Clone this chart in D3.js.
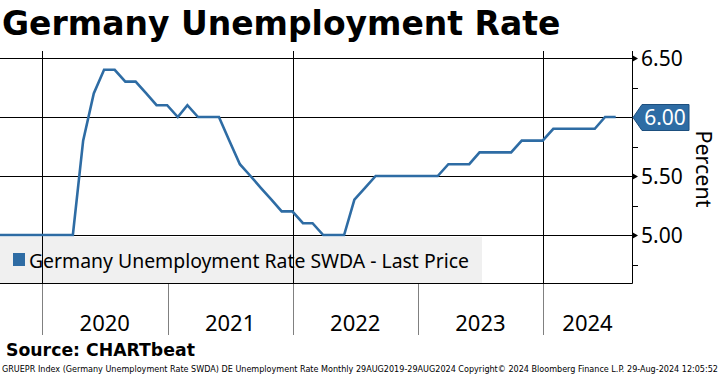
<!DOCTYPE html>
<html><head><meta charset="utf-8">
<script src="https://cdn.jsdelivr.net/npm/d3@7"></script>
<style>
html,body{margin:0;padding:0;background:#fff;}
svg{display:block;}
</style></head>
<body>
<svg id="chart" width="720" height="375"></svg>
<script>
// ---- Data (month-end dates, SWDA unemployment rate %) ----
const months = [
  "2019-08","2019-09","2019-10","2019-11","2019-12",
  "2020-01","2020-02","2020-03","2020-04","2020-05","2020-06","2020-07","2020-08","2020-09","2020-10","2020-11","2020-12",
  "2021-01","2021-02","2021-03","2021-04","2021-05","2021-06","2021-07","2021-08","2021-09","2021-10","2021-11","2021-12",
  "2022-01","2022-02","2022-03","2022-04","2022-05","2022-06","2022-07","2022-08","2022-09","2022-10","2022-11","2022-12",
  "2023-01","2023-02","2023-03","2023-04","2023-05","2023-06","2023-07","2023-08","2023-09","2023-10","2023-11","2023-12",
  "2024-01","2024-02","2024-03","2024-04","2024-05","2024-06","2024-07"
];
const rates = [
  5.0,5.0,5.0,5.0,5.0,
  5.0,5.0,5.0,5.8,6.2,6.4,6.4,6.3,6.3,6.2,6.1,6.1,
  6.0,6.1,6.0,6.0,6.0,5.8,5.6,5.5,5.4,5.3,5.2,5.2,
  5.1,5.1,5.0,5.0,5.0,5.3,5.4,5.5,5.5,5.5,5.5,5.5,
  5.5,5.5,5.6,5.6,5.6,5.7,5.7,5.7,5.7,5.8,5.8,5.8,
  5.9,5.9,5.9,5.9,5.9,6.0,6.0
];
const yearLabels = ["2020","2021","2022","2023","2024"];
const yMajorTicks = [5.0, 5.5, 6.0, 6.5];
const yMinorTicks = [4.75, 5.25, 5.75, 6.25];
const lastValue = 6.00;
const titleText = "Germany Unemployment Rate";
const legendText = "Germany Unemployment Rate SWDA - Last Price";
const axisTitle = "Percent";
const sourceText = "Source: CHARTbeat";
const footerText = "GRUEPR Index (Germany Unemployment Rate SWDA) DE Unemployment Rate  Monthly 29AUG2019-29AUG2024  Copyright\u00A9 2024 Bloomberg Finance L.P.   29-Aug-2024 12:05:52";

// ---- Layout ----
const W = 720, H = 375;
const plotL = 0, plotR = 632, plotT = 51, plotB = 283, axisB = 335;
const blue = "#2e6ca4";
const sans = "'Noto Sans', 'Open Sans', sans-serif";
const boldSans = "'DejaVu Sans', Verdana, sans-serif";

const parse = d3.timeParse("%Y-%m");
const data = months.map((m, i) => {
  const d = parse(m);
  const end = new Date(d.getFullYear(), d.getMonth() + 1, 0); // month end
  return {date: end, value: rates[i]};
});

const x = d3.scaleTime()
  .domain([new Date(2020,0,1), new Date(2024,0,1)])
  .range([42, 543]);
const y = d3.scaleLinear().domain([5.0, 6.5]).range([235, 58]);

const svg = d3.select("#chart");

// Title
svg.append("text").attr("x", 2).attr("y", 35)
  .attr("font-family", boldSans).attr("font-weight", "bold")
  .attr("font-size", 33).attr("fill", "#000").text(titleText);

// Legend background (under gridlines)
const legendW = 482, legendT = 237;
svg.append("rect").attr("x", 0).attr("y", legendT).attr("width", legendW).attr("height", plotB - legendT)
  .attr("fill", "#f0f0f0");

// Horizontal gridlines
svg.append("g").selectAll("line").data(yMajorTicks).join("line")
  .attr("x1", plotL).attr("x2", plotR)
  .attr("y1", d => Math.round(y(d)) + 0.5).attr("y2", d => Math.round(y(d)) + 0.5)
  .attr("stroke", "#000").attr("stroke-width", 1);

// Vertical gridlines every two years
const gridYears = [2020, 2022, 2024].map(yr => new Date(yr, 0, 1));
svg.append("g").selectAll("line").data(gridYears).join("line")
  .attr("x1", d => Math.round(x(d)) + 0.5).attr("x2", d => Math.round(x(d)) + 0.5)
  .attr("y1", plotT).attr("y2", plotB)
  .attr("stroke", "#000").attr("stroke-width", 1);

// Legend content
svg.append("rect").attr("x", 13).attr("y", 253).attr("width", 12).attr("height", 13).attr("fill", blue);
svg.append("text").attr("x", 29).attr("y", 268)
  .attr("font-family", sans).attr("font-size", 19.4).attr("fill", "#000")
  .text(legendText);

// Clip & line
svg.append("clipPath").attr("id", "clip").append("rect")
  .attr("x", plotL).attr("y", plotT).attr("width", plotR - plotL).attr("height", plotB - plotT);
const line = d3.line().x(d => x(d.date)).y(d => y(d.value));
svg.append("path").datum(data)
  .attr("clip-path", "url(#clip)")
  .attr("d", line).attr("fill", "none")
  .attr("stroke", blue).attr("stroke-width", 2.6)
  .attr("stroke-linejoin", "miter");

// Plot frame: bottom + right axis line
svg.append("line").attr("x1", plotL).attr("x2", plotR + 0.5)
  .attr("y1", plotB + 0.5).attr("y2", plotB + 0.5).attr("stroke", "#000");
svg.append("line").attr("x1", plotR + 0.5).attr("x2", plotR + 0.5)
  .attr("y1", plotT).attr("y2", plotB + 0.5).attr("stroke", "#000");

// Right axis: minor ticks
svg.append("g").selectAll("line").data(yMinorTicks).join("line")
  .attr("x1", plotR).attr("x2", plotR + 6)
  .attr("y1", d => Math.round(y(d)) + 0.5).attr("y2", d => Math.round(y(d)) + 0.5)
  .attr("stroke", "#000");

// Right axis: major tick arrows and labels (except the last-value label)
const majorShown = yMajorTicks.filter(v => v !== lastValue);
svg.append("g").selectAll("path").data(majorShown).join("path")
  .attr("d", d => { const yy = Math.round(y(d)) + 0.5; return `M${plotR},${yy-3.5}L${plotR+6},${yy}L${plotR},${yy+3.5}Z`; })
  .attr("fill", "#000");
svg.append("g").selectAll("text").data(majorShown).join("text")
  .attr("x", 641).attr("y", d => y(d) + 7.5)
  .attr("font-family", sans).attr("font-size", 21).attr("fill", "#000")
  .text(d => d3.format(".2f")(d));

// Last value marker
const ly = Math.round(y(lastValue)) + 0.5;
svg.append("path")
  .attr("d", `M${plotR+1},${ly}L${plotR+10},${ly-13}L${689},${ly-13}L${689},${ly+13}L${plotR+10},${ly+13}Z`)
  .attr("fill", blue).attr("stroke", "#1d4f7e").attr("stroke-width", 1);
svg.append("text").attr("x", 665).attr("y", ly + 7.5).attr("text-anchor", "middle")
  .attr("font-family", sans).attr("font-size", 21).attr("fill", "#fff")
  .text(d3.format(".2f")(lastValue));

// Axis title
svg.append("text")
  .attr("transform", `translate(696,169) rotate(90)`)
  .attr("text-anchor", "middle")
  .attr("font-family", sans).attr("font-size", 21.5).attr("fill", "#000")
  .text(axisTitle);

// X axis separators and year labels
const yearStarts = yearLabels.map(s => new Date(+s, 0, 1));
svg.append("g").selectAll("line").data(yearStarts).join("line")
  .attr("x1", d => Math.round(x(d)) + 0.5).attr("x2", d => Math.round(x(d)) + 0.5)
  .attr("y1", plotB + 1).attr("y2", axisB)
  .attr("stroke", "#808080").attr("stroke-width", 1);
svg.append("g").selectAll("text").data(yearLabels).join("text")
  .attr("x", (d, i) => {
    const a = x(yearStarts[i]);
    const b = Math.min(x(new Date(+d + 1, 0, 1)), plotR);
    return (a + b) / 2;
  })
  .attr("y", 331).attr("text-anchor", "middle")
  .attr("font-family", sans).attr("font-size", 22).attr("fill", "#000")
  .text(d => d);

// Source and footer
svg.append("text").attr("x", 6).attr("y", 356)
  .attr("font-family", boldSans).attr("font-weight", "bold")
  .attr("font-size", 17.3).attr("fill", "#000").text(sourceText);
svg.append("text").attr("x", 2).attr("y", 372)
  .attr("font-family", "'DejaVu Sans Condensed', 'DejaVu Sans', sans-serif")
  .attr("font-size", 8.5).attr("fill", "#000")
  .attr("textLength", 716).attr("lengthAdjust", "spacingAndGlyphs")
  .text(footerText);
</script>
</body></html>
